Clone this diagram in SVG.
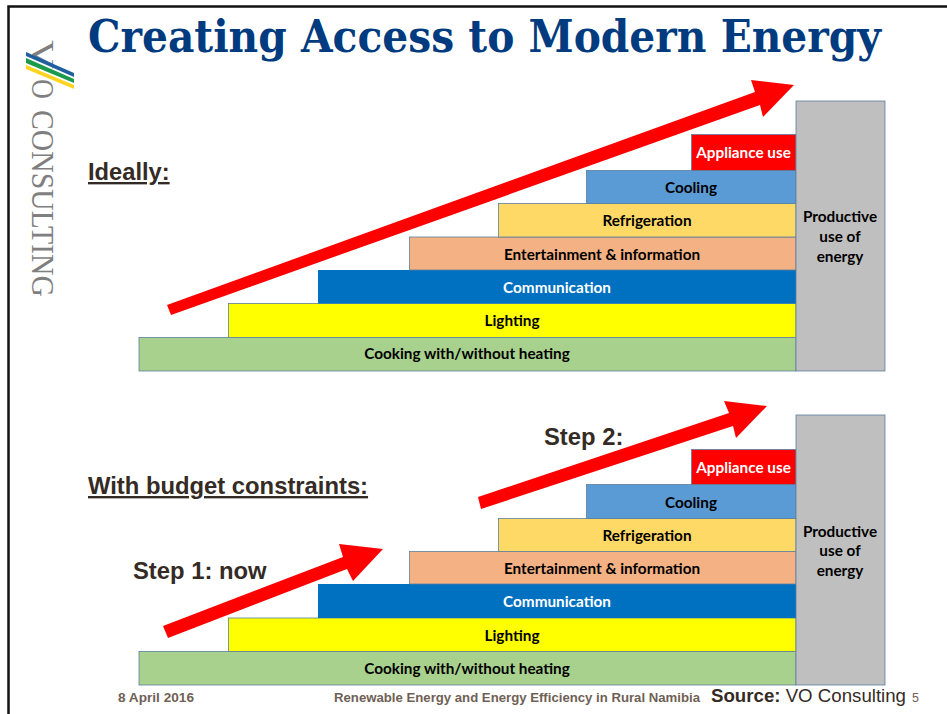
<svg xmlns="http://www.w3.org/2000/svg" width="947" height="714" viewBox="0 0 947 714">
<style>
.b{stroke:#5b7f9f;stroke-width:.8}
.l{font-family:Lato,Carlito,"Open Sans",sans-serif;font-weight:700;font-size:15.300px;text-anchor:middle;fill:#000}
.w{fill:#fff}
.h{font-family:"Liberation Sans",Arial,sans-serif;font-weight:700;fill:#352b25}
.f{font-family:"Liberation Sans",Arial,sans-serif;font-weight:700;font-size:12.500px;fill:#6f5f55}
.a{fill:#f00}
.g{font-family:"Liberation Serif",serif;font-size:32px;fill:#7f7f7f}
</style>
<rect width="947" height="714" fill="#fff"/>
<path d="M8.500 714V6.500H947" fill="none" stroke="#111" stroke-width="2.500"/>
<text id="title" x="88" y="52" font-family="'DejaVu Serif',serif" font-weight="700" font-size="44" fill="#003b80" textLength="793" lengthAdjust="spacingAndGlyphs">Creating Access to Modern Energy</text>
<g id="logo">
<text class="g" transform="translate(32 40) rotate(90)" textLength="29" lengthAdjust="spacingAndGlyphs">V</text>
<text class="g" transform="translate(32 79) rotate(90)" textLength="20" lengthAdjust="spacingAndGlyphs">O</text>
<text class="g" transform="translate(32 110) rotate(90)" textLength="187" lengthAdjust="spacingAndGlyphs">CONSULTING</text>
<polygon points="26,52 74,73 74,77 26,56" fill="#1f5fa0"/>
<polygon points="26,58 74,79 74,83 26,63" fill="#1a9a4a"/>
<polygon points="26,65 74,85 74,89 26,69" fill="#ffd320"/>
</g>
<g id="heading-ideally"><text class="h" x="88" y="180" font-size="23.700" text-decoration="underline">Ideally:</text></g>
<g id="heading-budget"><text class="h" x="88" y="494" font-size="23.800" text-decoration="underline">With budget constraints:</text></g>
<g id="step1"><text class="h" x="133" y="579" font-size="23.800">Step 1: now</text></g>
<g id="step2"><text class="h" x="544" y="445" font-size="23.800">Step 2:</text></g>

<g id="top-stack">
<g id="t-cooking"><rect class="b" x="139" y="337.500" width="657" height="33.500" fill="#a9d18e"/><text class="l" x="467" y="359">Cooking with/without heating</text></g>
<g id="t-lighting"><rect class="b" x="228.500" y="303.500" width="567.500" height="34" fill="#ff0"/><text class="l" x="512" y="326">Lighting</text></g>
<g id="t-communication"><rect x="318" y="270" width="478" height="33.500" fill="#0070c0"/><text class="l w" x="557" y="293">Communication</text></g>
<g id="t-entertainment"><rect class="b" x="409.500" y="237" width="386.500" height="33" fill="#f4b183"/><text class="l" x="602" y="260">Entertainment &amp; information</text></g>
<g id="t-refrigeration"><rect class="b" x="498.500" y="203.500" width="297.500" height="33.500" fill="#ffd966"/><text class="l" x="647" y="226">Refrigeration</text></g>
<g id="t-cooling"><rect class="b" x="586.500" y="170.500" width="209.500" height="33" fill="#5b9bd5"/><text class="l" x="691" y="193">Cooling</text></g>
<g id="t-appliance"><rect class="b" x="691.500" y="134.500" width="104.500" height="36" fill="#f00"/><text class="l w" x="743.500" y="158">Appliance use</text></g>
<g id="t-productive"><rect class="b" x="796" y="101" width="89" height="270" fill="#bfbfbf"/><text class="l" x="840" y="222">Productive</text><text class="l" x="840" y="242">use of</text><text class="l" x="840" y="262">energy</text></g>
</g>

<g id="bottom-stack">
<g id="b-cooking"><rect class="b" x="139" y="651.500" width="657" height="33.500" fill="#a9d18e"/><text class="l" x="467" y="674">Cooking with/without heating</text></g>
<g id="b-lighting"><rect class="b" x="228.500" y="618" width="567.500" height="33.500" fill="#ff0"/><text class="l" x="512" y="641">Lighting</text></g>
<g id="b-communication"><rect x="318" y="584" width="478" height="34" fill="#0070c0"/><text class="l w" x="557" y="607">Communication</text></g>
<g id="b-entertainment"><rect class="b" x="409.500" y="551.500" width="386.500" height="32.500" fill="#f4b183"/><text class="l" x="602" y="574">Entertainment &amp; information</text></g>
<g id="b-refrigeration"><rect class="b" x="498.500" y="518.500" width="297.500" height="33" fill="#ffd966"/><text class="l" x="647" y="541">Refrigeration</text></g>
<g id="b-cooling"><rect class="b" x="586.500" y="484.500" width="209.500" height="34" fill="#5b9bd5"/><text class="l" x="691" y="508">Cooling</text></g>
<g id="b-appliance"><rect class="b" x="691.500" y="449.500" width="104.500" height="35" fill="#f00"/><text class="l w" x="743.500" y="473">Appliance use</text></g>
<g id="b-productive"><rect class="b" x="796" y="415" width="89" height="270" fill="#bfbfbf"/><text class="l" x="840" y="537">Productive</text><text class="l" x="840" y="556">use of</text><text class="l" x="840" y="576">energy</text></g>
</g>

<g id="connectors">
<polygon class="a" points="167,305 755,92 751,80 794,85 763,117 760,105 171,315"/>
<polygon class="a" points="163,626 343,557 339,544 383,549 353,581 347,569 168,638"/>
<polygon class="a" points="478,497 729,413 724,401 767,406 736,438 733,426 481,509"/>
</g>

<g id="footer">
<text class="f" x="118" y="702" textLength="76" lengthAdjust="spacingAndGlyphs">8 April 2016</text>
<text class="f" x="334" y="702" textLength="366" lengthAdjust="spacingAndGlyphs">Renewable Energy and Energy Efficiency in Rural Namibia</text>
<text x="711" y="702" font-family="'Liberation Sans',sans-serif" font-size="18" fill="#352b25" textLength="195" lengthAdjust="spacingAndGlyphs"><tspan font-weight="700">Source:</tspan> VO Consulting</text>
<text x="912" y="702" font-family="'Liberation Sans',sans-serif" font-size="12.500" fill="#6f5f55">5</text>
</g>
</svg>
